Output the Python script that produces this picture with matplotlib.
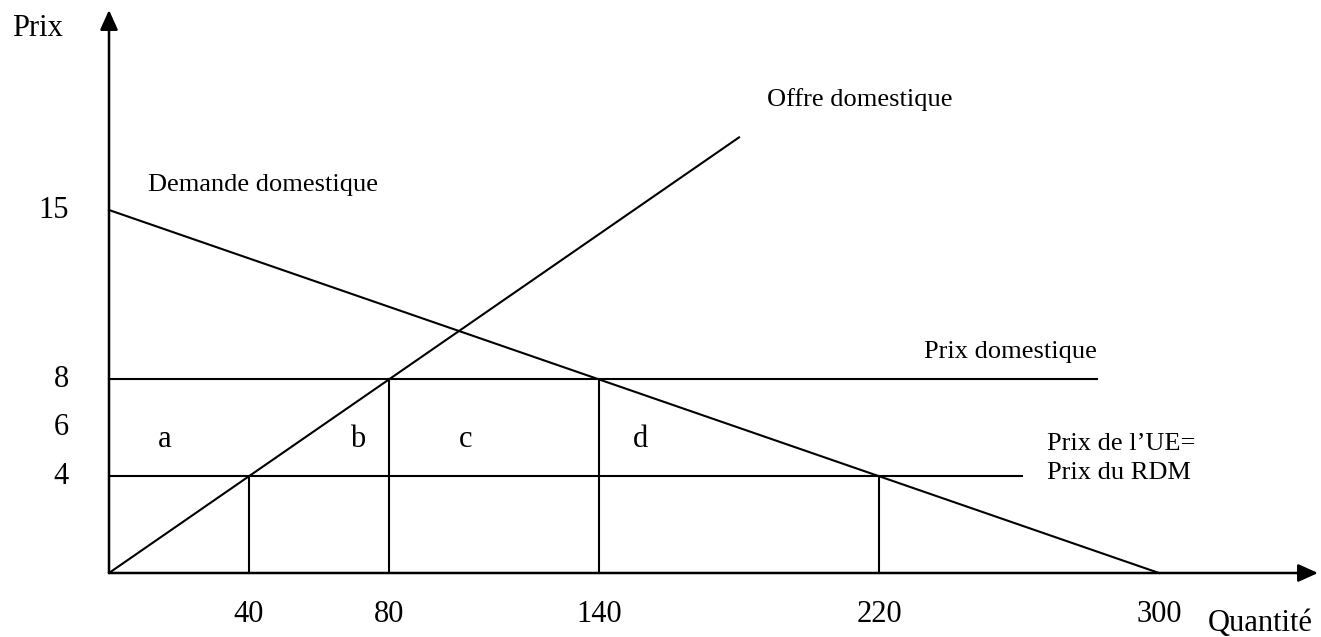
import matplotlib.pyplot as plt

# valeurs du schéma (quantités, prix)
quantites = [40, 80, 140, 220, 300]
prix_ticks = [4, 6, 8, 15]
prix_domestique = 8
prix_monde = 4

offre_q = [0, 180]
offre_p = [0, 18]          # offre : P = Q / 10
demande_q = [0, 300]
demande_p = [15, 0]        # demande : P = 15 - Q / 20

# verticales (quantité, hauteur)
vert_q = [40, 80, 140, 220]
vert_p = [4, 8, 8, 4]

zones = ["a", "b", "c", "d"]
zones_q = [16, 71, 102, 152]

# mise en page : origine en pixels et échelles
W, H = 1321, 637
ox, oy = 109, 573
sx, sy = 3.5, 24.2

plt.rcParams["font.family"] = ["Liberation Serif", "DejaVu Serif"]

fig = plt.figure(figsize=(W / 100, H / 100), dpi=100)
ax = fig.add_axes([0, 0, 1, 1])
ax.set_xlim(-ox / sx, (W - ox) / sx)
ax.set_ylim(-(H - oy) / sy, oy / sy)
ax.axis("off")

lw = 1.5
arrow = dict(arrowstyle="-|>,head_length=0.4,head_width=0.18", mutation_scale=30,
             color="black", lw=1.8, shrinkA=0, shrinkB=0)
ax.annotate("", xy=((1318 - ox) / sx, 0), xytext=(0, 0), arrowprops=arrow)
ax.annotate("", xy=(0, (oy - 10) / sy), xytext=(0, 0), arrowprops=arrow)

ax.plot(offre_q, offre_p, color="black", lw=lw)
ax.plot(demande_q, demande_p, color="black", lw=lw)
ax.plot([0, (1097 - ox) / sx], [prix_domestique] * 2, color="black", lw=lw)
ax.plot([0, (1022 - ox) / sx], [prix_monde] * 2, color="black", lw=lw)
for q, p in zip(vert_q, vert_p):
    ax.plot([q, q], [0, p], color="black", lw=lw)

for q in quantites:
    ax.text(q, -1.7, str(q), ha="center", va="center", fontsize=22)
for p in prix_ticks:
    ax.text(-11.4, p, str(p), ha="right", va="center", fontsize=22)

ax.text(-27.7, 22.2, "Prix", fontsize=22)
ax.text(314, -2.4, "Quantité", fontsize=22)

ax.text(11, 15.8, "Demande domestique", fontsize=19)
ax.text(188, 19.3, "Offre domestique", fontsize=19)
ax.text(233, 8.9, "Prix domestique", fontsize=19)
ax.text(268, 5.1, "Prix de l’UE=", fontsize=19)
ax.text(268, 3.88, "Prix du RDM", fontsize=19)

for z, q in zip(zones, zones_q):
    ax.text(q, 5.5, z, ha="center", va="center", fontsize=22)

fig.savefig("out.png", dpi=100, facecolor="white")
